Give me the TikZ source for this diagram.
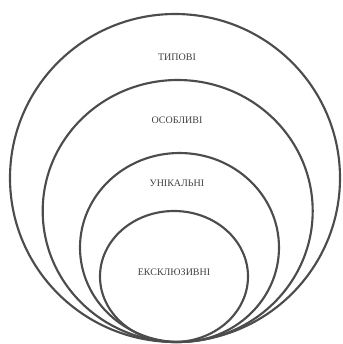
\documentclass[tikz,border=0pt]{standalone}
\usepackage{fontspec}
\setmainfont{Liberation Serif}
\usetikzlibrary{positioning,shapes.geometric}

\begin{document}
\begin{tikzpicture}[
    x=0.75pt, y=-0.75pt,
    ring/.style={
        ellipse, draw=black!70, line width=1.6pt, inner sep=0pt
    },
    tag/.style={
        font=\fontsize{7.5}{9}\selectfont, text=black!75
    }
]
\useasboundingbox (0,0) rectangle (343,344);
\node[ring, minimum width=247.5pt, minimum height=246pt] (typical) at (175,178) {};
\node[ring, minimum width=202.5pt, minimum height=196.5pt] (special) at (177.7,211) {};
\node[ring, minimum width=149.25pt, minimum height=141.75pt] (unique) at (179.5,247.5) {};
\node[ring, minimum width=111pt, minimum height=98.25pt] (exclusive) at (174,276.5) {};

\node[tag] (typlabel) at (177,57) {ТИПОВІ};
\node[tag] (speclabel) at (177,120) {ОСОБЛИВІ};
\node[tag] (unilabel) at (177,183) {УНІКАЛЬНІ};
\node[tag] (exclabel) at (174,272) {ЕКСКЛЮЗИВНІ};
\end{tikzpicture}
\end{document}
